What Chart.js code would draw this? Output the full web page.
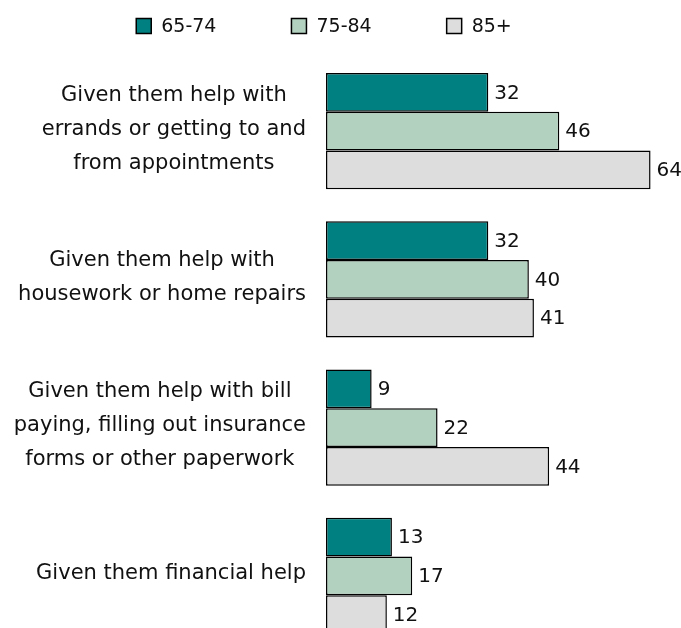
<!DOCTYPE html>
<html><head><meta charset="utf-8">
<script src="https://cdn.jsdelivr.net/npm/chart.js@4/dist/chart.umd.min.js"></script>
<style>html,body{margin:0;padding:0;background:#fff;overflow:hidden;} canvas{display:block;}</style>
</head><body>
<canvas id="c" width="681" height="660"></canvas>
<script>
// ---- data ----
const categories = [
  ["Given them help with", "errands or getting to and", "from appointments"],
  ["Given them help with", "housework or home repairs"],
  ["Given them help with bill", "paying, filling out insurance", "forms or other paperwork"],
  ["Given them financial help"]
];
const seriesNames = ["65-74", "75-84", "85+"];
const values6574 = [32, 32, 9, 13];
const values7584 = [46, 40, 22, 17];
const values85plus = [64, 41, 44, 12];

// ---- style ----
const colors = ["#008080", "#b3d1bf", "#dddddd"];
const FONT = "'DejaVu Sans', Verdana, sans-serif";

const categoryLabels = {
  id: 'categoryLabels',
  afterDraw(chart) {
    const ctx = chart.ctx, y = chart.scales.y;
    ctx.save();
    ctx.font = "21px " + FONT;
    ctx.fillStyle = "#111";
    ctx.textAlign = "center";
    ctx.textBaseline = "middle";
    const rightEdge = 306, lineH = 34;
    categories.forEach((lines, i) => {
      const w = Math.max(...lines.map(l => ctx.measureText(l).width));
      const cx = rightEdge - w / 2;
      const cy = y.getPixelForValue(i) - 2;
      const top = cy - (lines.length - 1) * lineH / 2;
      lines.forEach((l, k) => ctx.fillText(l, cx, top + k * lineH));
    });
    ctx.restore();
  }
};

const valueLabels = {
  id: 'valueLabels',
  afterDatasetsDraw(chart) {
    const ctx = chart.ctx;
    ctx.save();
    ctx.font = "20px " + FONT;
    ctx.fillStyle = "#111";
    ctx.textAlign = "left";
    ctx.textBaseline = "middle";
    chart.data.datasets.forEach((ds, d) => {
      chart.getDatasetMeta(d).data.forEach((el, i) => {
        ctx.fillText(String(ds.data[i]), el.x + 6, el.y + 1);
      });
    });
    ctx.restore();
  }
};

const topLegend = {
  id: 'topLegend',
  afterDraw(chart) {
    const ctx = chart.ctx;
    ctx.save();
    ctx.font = "19px " + FONT;
    ctx.textBaseline = "middle";
    ctx.textAlign = "left";
    const box = 15, gap = 10, itemGap = 75, cx = 324, cy = 26;
    const items = chart.data.datasets.map(ds => ({ text: ds.label, color: ds.backgroundColor, w: box + gap + ctx.measureText(ds.label).width }));
    const total = items.reduce((s, it) => s + it.w, 0) + itemGap * (items.length - 1);
    let x = cx - total / 2;
    items.forEach(it => {
      ctx.fillStyle = it.color;
      ctx.fillRect(x, cy - box / 2, box, box);
      ctx.lineWidth = 1.5;
      ctx.strokeStyle = "#000";
      ctx.strokeRect(x, cy - box / 2, box, box);
      ctx.fillStyle = "#111";
      ctx.fillText(it.text, x + box + gap, cy + 1);
      x += it.w + itemGap;
    });
    ctx.restore();
  }
};

const seriesValues = [values6574, values7584, values85plus];
new Chart(document.getElementById('c'), {
  type: 'bar',
  data: {
    labels: categories,
    datasets: seriesNames.map((name, k) => ({
      label: name,
      data: seriesValues[k],
      backgroundColor: colors[k],
      borderColor: "#000",
      borderWidth: 1.5,
      borderSkipped: false,
      categoryPercentage: 0.783,
      barPercentage: 1.0
    }))
  },
  options: {
    indexAxis: 'y',
    responsive: false,
    maintainAspectRatio: false,
    animation: false,
    layout: { padding: { top: 57, bottom: 10, left: 326, right: 0 } },
    scales: {
      x: { display: false, min: 0, max: 70 },
      y: { display: false }
    },
    plugins: {
      legend: { display: false },
      tooltip: { enabled: false }
    }
  },
  plugins: [categoryLabels, valueLabels, topLegend]
});
</script>
</body></html>
